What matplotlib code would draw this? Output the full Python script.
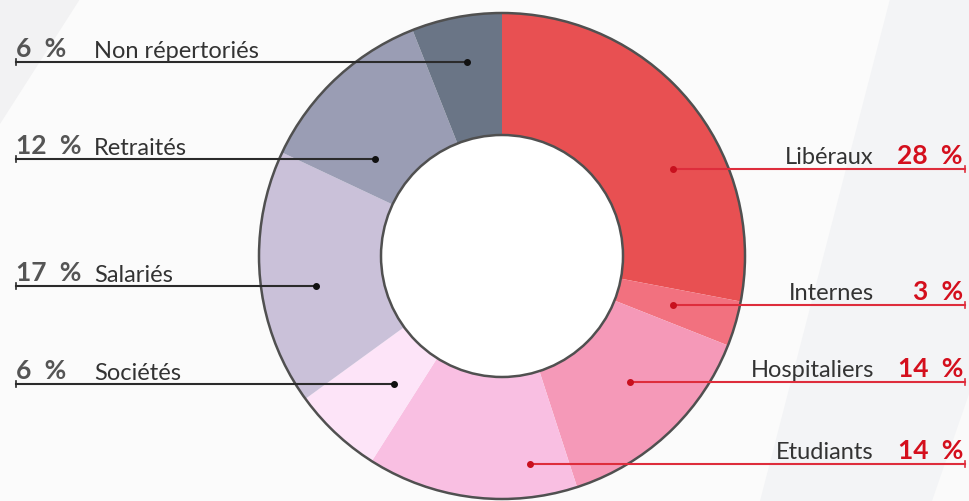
import numpy as np
import matplotlib.pyplot as plt
from matplotlib.patches import Polygon, Circle

# Répartition (%) - dans l'ordre horaire à partir du haut
categories = ['Libéraux', 'Internes', 'Hospitaliers', 'Etudiants',
              'Sociétés', 'Salariés', 'Retraités', 'Non répertoriés']
values = [28, 3, 14, 14, 6, 17, 12, 6]
colors = ['#e85052', '#f2717f', '#f599b8', '#f9bfe2',
          '#fde4f8', '#cac1d9', '#9a9db4', '#6a7586']

W, H = 969, 502
cx, cy = 502, 257          # centre du donut (pixels, y vers le bas)
r_out, r_in = 243, 121

# placement des étiquettes : côté, y de la ligne, x du point
label_side = ['R', 'R', 'R', 'R', 'L', 'L', 'L', 'L']
label_y = [170, 306, 383, 465, 385, 287, 160, 63]
dot_x = [673, 673, 630, 530, 394, 316, 375, 467]

plt.rcParams['font.family'] = ['Lato', 'DejaVu Sans']

fig = plt.figure(figsize=(W / 100, H / 100), dpi=100)
fig.patch.set_facecolor('#fbfbfb')
ax = fig.add_axes([0, 0, 1, 1])


def Y(y):
    return H - y


# fond : bandes diagonales
ax.add_patch(Polygon([(890, Y(0)), (W, Y(0)), (W, Y(H)), (760, Y(H))],
                     closed=True, fc='#f3f4f6', ec='none', zorder=0))
ax.add_patch(Polygon([(W, Y(395)), (W, Y(H)), (932, Y(H))],
                     closed=True, fc='#fafafa', ec='none', zorder=0))
ax.add_patch(Polygon([(0, Y(0)), (80, Y(0)), (0, Y(125))],
                     closed=True, fc='#f2f2f3', ec='none', zorder=0))

# donut
wedges, _ = ax.pie(values, colors=colors, startangle=90, counterclock=False,
                   center=(cx, Y(cy)), radius=r_out, frame=True,
                   wedgeprops=dict(width=r_out - r_in, linewidth=0))
for w in wedges:
    w.set_zorder(1)
ax.add_patch(Circle((cx, Y(cy)), r_out, fill=False, ec='#505050', lw=1.8, zorder=2))
ax.add_patch(Circle((cx, Y(cy)), r_in, fc='white', ec='#505050', lw=1.8, zorder=2))
ax.set_xlim(0, W)
ax.set_ylim(0, H)
ax.set_aspect('auto')
ax.axis('off')

# étiquettes
for cat, val, side, ly, dx in zip(categories, values, label_side, label_y, dot_x):
    pct = f'{val}\u2002%'
    if side == 'L':
        lc = '#2b2b2b'
        ax.plot([16, dx], [Y(ly), Y(ly)], color=lc, lw=1.5, zorder=3)
        ax.plot([16, 16], [Y(ly) - 3, Y(ly) + 3], color=lc, lw=1.2, zorder=3)
        ax.plot(dx, Y(ly), 'o', color='#111111', ms=4, zorder=4)
        ax.text(16, Y(ly) + 6, pct, ha='left', va='baseline',
                fontsize=19, fontweight='bold', color='#555555', zorder=4)
        ax.text(94, Y(ly) + 5, cat, ha='left', va='baseline',
                fontsize=17, color='#333333', zorder=4)
    else:
        lc = '#de2d3c'
        ax.plot([dx, 965], [Y(ly), Y(ly)], color=lc, lw=1.5, zorder=3)
        ax.plot([965, 965], [Y(ly) - 3, Y(ly) + 3], color=lc, lw=1.2, zorder=3)
        ax.plot(dx, Y(ly), 'o', color='#c8101e', ms=4, zorder=4)
        ax.text(963, Y(ly) + 6, pct, ha='right', va='baseline',
                fontsize=19, fontweight='bold', color='#d40f1d', zorder=4)
        ax.text(874, Y(ly) + 6, cat, ha='right', va='baseline',
                fontsize=17, color='#333333', zorder=4)

fig.savefig('out.png', dpi=100, facecolor=fig.get_facecolor())
